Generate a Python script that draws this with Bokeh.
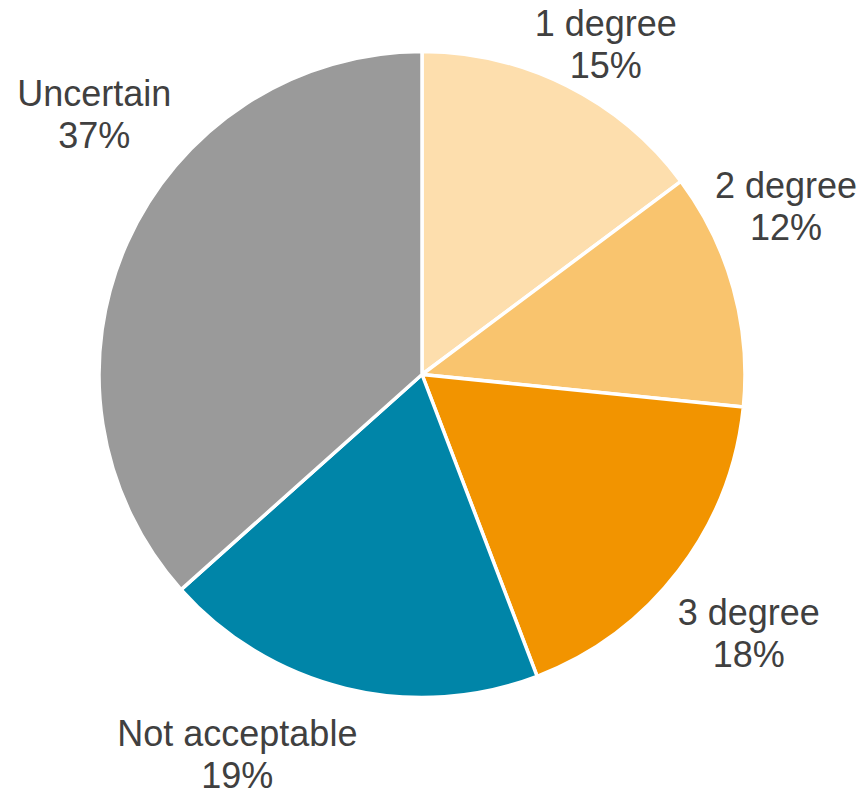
import math
from bokeh.plotting import figure
from bokeh.models import Range1d, ColumnDataSource
from bokeh.core.properties import value
from bokeh.embed import file_html
from bokeh.resources import INLINE

# data
categories = ["1 degree", "2 degree", "3 degree", "Not acceptable", "Uncertain"]
shares = [14.8, 11.8, 17.6, 19.2, 36.6]
colors = ["#FDDEAD", "#F9C46E", "#F29400", "#0085A8", "#9A9A9A"]

# layout
W, H = 866, 796
CX, CY = 421.5, 796 - 374
R = 323
LABEL_R = 1.2 * R
# nudges (dx, dy) in pixels, dy positive = up
nudges = [(10, -16), (-9.5, 65), (19, -23), (-93, -3), (26, 102)]
LINE_GAP = 42
FONT = "Liberation Sans"
FONT_SIZE = "36px"

total = sum(shares)
starts, ends, lx, ly, pct = [], [], [], [], []
cum = 0.0
for s, (dx, dy) in zip(shares, nudges):
    f0 = cum / total
    f1 = (cum + s) / total
    cum += s
    starts.append(math.pi / 2 - f0 * 2 * math.pi)
    ends.append(math.pi / 2 - f1 * 2 * math.pi)
    mid = (f0 + f1) / 2 * 2 * math.pi
    lx.append(CX + LABEL_R * math.sin(mid) + dx)
    ly.append(CY + LABEL_R * math.cos(mid) + dy)
    pct.append(f"{round(s)}%")

src = ColumnDataSource(dict(start=starts, end=ends, color=colors, cat=categories,
                            pct=pct, lx=lx, ly_top=[y + LINE_GAP / 2 for y in ly],
                            ly_bot=[y - LINE_GAP / 2 for y in ly]))

p = figure(width=W, height=H, output_backend="svg", toolbar_location=None,
           x_range=Range1d(0, W), y_range=Range1d(0, H), min_border=0)
p.axis.visible = False
p.grid.visible = False
p.outline_line_color = None
p.background_fill_color = "white"

p.wedge(x=CX, y=CY, radius=R, start_angle="start", end_angle="end", direction="clock",
        fill_color="color", line_color="white", line_width=3.5, source=src)

p.text(x="lx", y="ly_top", text="cat", source=src, text_font=value(FONT),
       text_font_size=FONT_SIZE, text_color="#404040", text_align="center",
       text_baseline="middle")
p.text(x="lx", y="ly_bot", text="pct", source=src, text_font=value(FONT),
       text_font_size=FONT_SIZE, text_color="#404040", text_align="center",
       text_baseline="middle")

open("out.html", "w").write(file_html(p, INLINE))
